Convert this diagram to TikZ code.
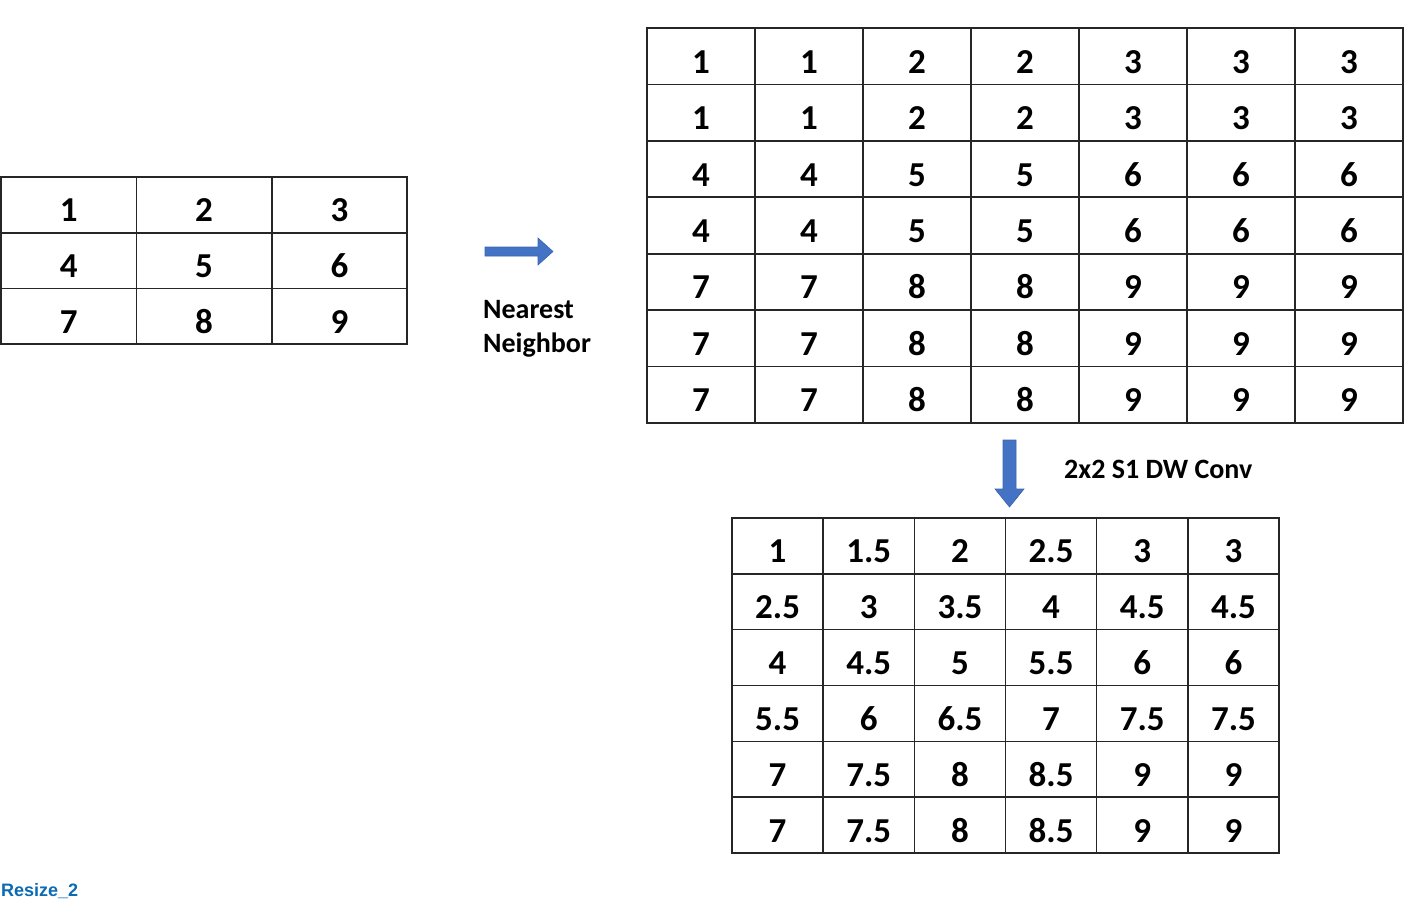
\documentclass[tikz,border=0pt]{standalone}
\usepackage{fontspec}
\setmainfont{Carlito}
\newfontfamily\linkfont{Liberation Sans}
\definecolor{arrowblue}{HTML}{4472C4}
\definecolor{arrowedge}{HTML}{3A64B0}
\definecolor{linkblue}{HTML}{0A6AB4}
\definecolor{gridline}{HTML}{262626}
\newcommand{\cellnum}[1]{\raisebox{-17pt}[0pt][0pt]{#1}}
\tikzset{
  cellbox/.style={draw=gridline, line width=1.6pt, inner sep=0pt, font=\fontsize{35}{40}\selectfont\bfseries},
  lab/.style={inner sep=0pt, anchor=west, font=\fontsize{28}{34}\selectfont\bfseries, align=left},
  blockarrow/.style={fill=arrowblue, draw=arrowedge, line width=0.6pt}
}
\begin{document}
\begin{tikzpicture}[x=1pt,y=-1pt]
\useasboundingbox (0,0) rectangle (1422,898);
% left grid
\def\lw{135.4}\def\lh{55.7}
\foreach \row [count=\r] in {{1,2,3},{4,5,6},{7,8,9}}{
  \foreach \v [count=\c] in \row {
    \node[cellbox, minimum width=\lw pt, minimum height=\lh pt] (L-\r-\c) at ({1+(\c-0.5)*\lw},{177+(\r-0.5)*\lh}) {\cellnum{\v}};
  }
}
% upsampled grid
\def\tw{108}\def\th{56.43}
\foreach \row [count=\r] in {{1,1,2,2,3,3,3},{1,1,2,2,3,3,3},{4,4,5,5,6,6,6},{4,4,5,5,6,6,6},{7,7,8,8,9,9,9},{7,7,8,8,9,9,9},{7,7,8,8,9,9,9}}{
  \foreach \v [count=\c] in \row {
    \node[cellbox, minimum width=\tw pt, minimum height=\th pt] (T-\r-\c) at ({647+(\c-0.5)*\tw},{28+(\r-0.5)*\th}) {\cellnum{\v}};
  }
}
% conv output grid
\def\bw{91.17}\def\bh{55.83}
\foreach \row [count=\r] in {{1,1.5,2,2.5,3,3},{2.5,3,3.5,4,4.5,4.5},{4,4.5,5,5.5,6,6},{5.5,6,6.5,7,7.5,7.5},{7,7.5,8,8.5,9,9},{7,7.5,8,8.5,9,9}}{
  \foreach \v [count=\c] in \row {
    \node[cellbox, minimum width=\bw pt, minimum height=\bh pt] (B-\r-\c) at ({732+(\c-0.5)*\bw},{518+(\r-0.5)*\bh}) {\cellnum{\v}};
  }
}
% arrows
\fill[blockarrow] (485,247) -- (538,247) -- (538,238) -- (553,251.5) -- (538,265) -- (538,256) -- (485,256) -- cycle;
\fill[blockarrow] (1003,440) -- (1016,440) -- (1016,489) -- (1024,489) -- (1009.5,507) -- (995,489) -- (1003,489) -- cycle;
% labels
\node[lab] (nn) at (483,329) {Nearest\\[0pt]Neighbor};
\node[lab] (conv) at (1064,469) {2x2 S1 DW Conv};
\node[inner sep=0pt, anchor=south west, text=linkblue, font=\linkfont\fontsize{18}{22}\selectfont\bfseries] (rs) at (1,899) {Resize\_2};
\end{tikzpicture}
\end{document}
